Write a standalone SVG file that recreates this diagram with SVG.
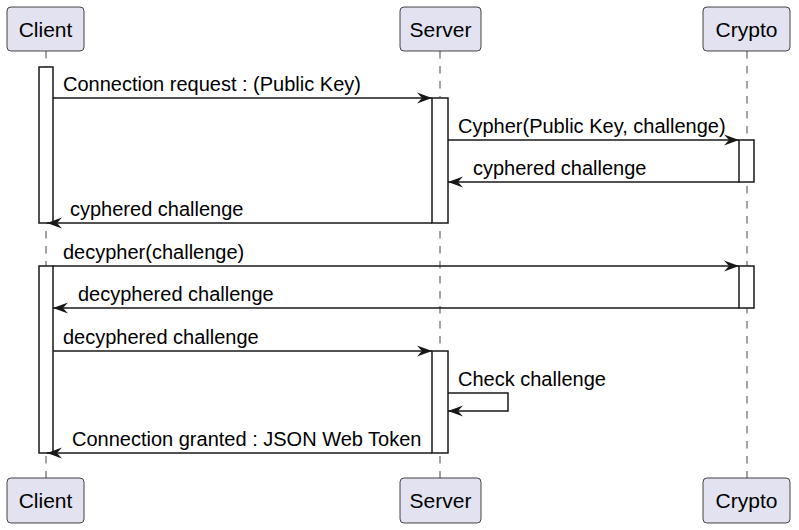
<svg xmlns="http://www.w3.org/2000/svg" width="799" height="530" viewBox="0 0 799 530">
<style>
.part rect{fill:#E2E2F0;stroke:#181818;stroke-width:0.8}
.part text{font-family:"Liberation Sans",Arial,sans-serif;font-size:21px;fill:#000;text-anchor:middle}
.life{stroke:#181818;stroke-width:0.8;stroke-dasharray:7.5 7.5;fill:none}
.act{fill:#fff;stroke:#181818;stroke-width:1.5}
.msg line,.msg polyline{stroke:#181818;stroke-width:1.5;fill:none}
.lbl{font-family:"Liberation Sans",Arial,sans-serif;font-size:20px;fill:#000}
</style>
<defs>
<marker id="ah" viewBox="0 0 15 12" refX="15" refY="6" markerWidth="15" markerHeight="12" markerUnits="userSpaceOnUse" orient="auto">
<path d="M0,0.5 L15,6 L0,11.5 L5,6 Z" fill="#181818"/>
</marker>
</defs>
<g id="lifelines">
<line class="life" x1="46" y1="51" x2="46" y2="478"/>
<line class="life" x1="440" y1="51" x2="440" y2="478"/>
<line class="life" x1="747" y1="51" x2="747" y2="478"/>
</g>
<g id="client-top" class="part"><rect x="7" y="7" width="77" height="44" rx="4"/><text x="45.5" y="37">Client</text></g>
<g id="server-top" class="part"><rect x="400" y="7" width="81" height="44" rx="4"/><text x="440.5" y="37">Server</text></g>
<g id="crypto-top" class="part"><rect x="703" y="7" width="87" height="44" rx="4"/><text x="746.5" y="37">Crypto</text></g>
<g id="client-bottom" class="part"><rect x="7" y="478" width="77" height="45" rx="4"/><text x="45.5" y="508">Client</text></g>
<g id="server-bottom" class="part"><rect x="400" y="478" width="81" height="45" rx="4"/><text x="440.5" y="508">Server</text></g>
<g id="crypto-bottom" class="part"><rect x="703" y="478" width="87" height="45" rx="4"/><text x="746.5" y="508">Crypto</text></g>
<g id="activations">
<rect class="act" x="39" y="67" width="14" height="156"/>
<rect class="act" x="432" y="98" width="16" height="125"/>
<rect class="act" x="739" y="140" width="15" height="42"/>
<rect class="act" x="39" y="266" width="14" height="187"/>
<rect class="act" x="739" y="266" width="15" height="42"/>
<rect class="act" x="432" y="351" width="16" height="102"/>
</g>
<g id="connectors" class="msg">
<line x1="53" y1="98" x2="432" y2="98" marker-end="url(#ah)"/>
<line x1="448" y1="140" x2="739" y2="140" marker-end="url(#ah)"/>
<line x1="739" y1="182" x2="448" y2="182" marker-end="url(#ah)"/>
<line x1="432" y1="223" x2="47" y2="223" marker-end="url(#ah)"/>
<line x1="53" y1="266" x2="739" y2="266" marker-end="url(#ah)"/>
<line x1="739" y1="308" x2="53" y2="308" marker-end="url(#ah)"/>
<line x1="53" y1="351" x2="432" y2="351" marker-end="url(#ah)"/>
<polyline points="448,393 508,393 508,411 448,411" marker-end="url(#ah)"/>
<line x1="432" y1="453" x2="47" y2="453" marker-end="url(#ah)"/>
</g>
<g id="labels">
<text class="lbl" x="63" y="91">Connection request : (Public Key)</text>
<text class="lbl" x="458" y="133">Cypher(Public Key, challenge)</text>
<text class="lbl" x="473" y="175">cyphered challenge</text>
<text class="lbl" x="70" y="216">cyphered challenge</text>
<text class="lbl" x="63" y="259">decypher(challenge)</text>
<text class="lbl" x="78" y="301">decyphered challenge</text>
<text class="lbl" x="63" y="344">decyphered challenge</text>
<text class="lbl" x="458" y="386">Check challenge</text>
<text class="lbl" x="72" y="446">Connection granted : JSON Web Token</text>
</g>
</svg>
